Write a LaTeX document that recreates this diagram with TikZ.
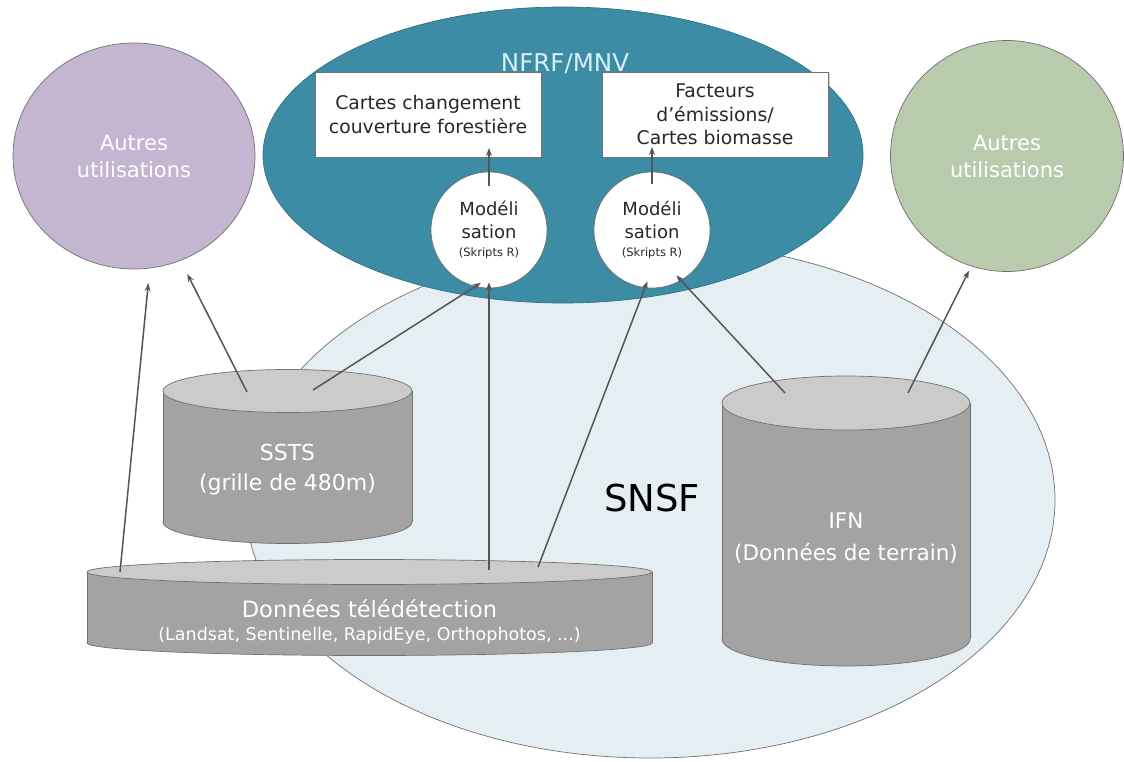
\documentclass[tikz,border=0pt]{standalone}
\usepackage{fontspec}
\setmainfont{DejaVu Sans}
\usetikzlibrary{shapes.geometric,arrows.meta,shadows,calc}
\definecolor{tealc}{RGB}{60,140,166}
\definecolor{snsfc}{RGB}{229,238,243}
\definecolor{purpc}{RGB}{196,181,208}
\definecolor{grnc}{RGB}{184,204,173}
\definecolor{cylbody}{RGB}{163,163,163}
\definecolor{cyltop}{RGB}{203,203,203}
\definecolor{edgec}{RGB}{112,112,112}
\definecolor{arrowc}{RGB}{85,85,85}
\definecolor{txtc}{RGB}{40,40,40}
\definecolor{nfrfc}{RGB}{214,240,246}
\newcommand\drawcyl[5]{%
  \fill[cylbody,draw=edgec,line width=0.7pt] (#1,#4) ellipse[x radius=#2, y radius=#5];
  \fill[cylbody] (#1-#2,#3) rectangle (#1+#2,#4);
  \draw[edgec,line width=0.7pt] (#1-#2,#3) -- (#1-#2,#4) (#1+#2,#3) -- (#1+#2,#4);
  \fill[cyltop,draw=edgec,line width=0.7pt] (#1,#3) ellipse[x radius=#2, y radius=#5];
}
\tikzset{
  blob/.style={ellipse, inner sep=0pt, draw=edgec, line width=0.7pt, align=center},
  infobox/.style={rectangle, fill=white, draw=edgec, line width=0.6pt, inner sep=0pt,
    align=center, text=txtc, font=\fontsize{18.8}{23.5}\selectfont,
    drop shadow={opacity=0.35, shadow xshift=1.5pt, shadow yshift=-1.5pt}},
  model/.style={circle, fill=white, draw=edgec, line width=0.7pt, inner sep=0pt,
    minimum size=116pt, align=center, text=txtc},
  cyltext/.style={align=center, text=white},
  arr/.style={draw=arrowc, line width=1.5pt, -{Stealth[length=8pt,width=6pt]}},
}
\begin{document}
\begin{tikzpicture}[x=1pt,y=-1pt]
\fill[white] (0,0) rectangle (1124,762);
\useasboundingbox (0,0) rectangle (1124,762);
% big shapes
\node[blob, fill=snsfc, minimum width=810pt, minimum height=516pt] (snsf) at (650,500) {};
\node[blob, fill=tealc, draw=tealc!80!black, minimum width=600pt, minimum height=296pt] (nfrf) at (563,155) {};
\node[blob, fill=purpc, minimum width=242pt, minimum height=226pt, text=white,
  font=\fontsize{21}{27}\selectfont] (purp) at (134,156) {Autres\\utilisations};
\node[blob, fill=grnc, minimum width=233pt, minimum height=231pt, text=white,
  font=\fontsize{21}{27}\selectfont] (grn) at (1007,156) {Autres\\utilisations};
\node[text=nfrfc, font=\fontsize{24.5}{27}\selectfont] (nfrfl) at (565,64) {NFRF/MNV};
% boxes
\node[infobox, minimum width=226pt, minimum height=85pt] (b1) at (428,114.5)
  {Cartes changement\\couverture forestière};
\node[infobox, minimum width=226pt, minimum height=85pt] (b2) at (715,114.5)
  {Facteurs\\d’émissions/\\Cartes biomasse};
% model circles
\node[model, font=\fontsize{18}{23}\selectfont] (m1) at (489,230)
  {Modéli\\sation\\[-5pt]\fontsize{11.5}{13}\selectfont (Skripts R)};
\node[model, font=\fontsize{18}{23}\selectfont] (m2) at (652,230)
  {Modéli\\sation\\[-5pt]\fontsize{11.5}{13}\selectfont (Skripts R)};
% SNSF label
\node[font=\fontsize{37}{40}\selectfont, text=black] (snsfl) at (652,498) {SNSF};
% cylinders
\drawcyl{287.5}{124.5}{391}{522}{21.5}
\node[cyltext, font=\fontsize{22}{30}\selectfont] (ssts) at (287.5,470) {SSTS\\(grille de 480m)};
\drawcyl{846}{124}{403}{639}{27}
\node[cyltext, font=\fontsize{21.5}{32}\selectfont] (ifn) at (846,538) {IFN\\(Données de terrain)};
\drawcyl{369.5}{282.5}{572}{643}{12.5}
\node[cyltext, font=\fontsize{22.5}{26}\selectfont] (don) at (369.5,622)
  {Données télédétection\\[-3pt]\fontsize{17.5}{20}\selectfont (Landsat, Sentinelle, RapidEye, Orthophotos, ...)};
% connector ends on cylinder tops / in boxes
\coordinate (dA) at (120,572);
\coordinate (sA) at (247,392);
\coordinate (sB) at (313,390);
\coordinate (dB) at (489,570);
\coordinate (dC) at (538,567);
\coordinate (iA) at (785,393);
\coordinate (iB) at (908,393);
\coordinate (t1) at (489,148);
\coordinate (t2) at (652,147);
% connectors
\draw[arr, shorten >=15pt] (dA) -- (purp.278);
\draw[arr, shorten >=15pt] (sA) -- (purp.294);
\draw[arr, shorten >=-7pt] (sB) -- (m1.256);
\draw[arr, shorten >=-6pt] (dB) -- (m1.south);
\draw[arr, shorten >=-7pt] (dC) -- (m2.263);
\draw[arr, shorten >=-7pt] (iA) -- (m2.300);
\draw[arr, shorten >=5pt] (iB) -- (grn.252);
\draw[arr, shorten <=-14pt] (m1.north) -- (t1);
\draw[arr, shorten <=-12pt] (m2.north) -- (t2);
\end{tikzpicture}
\end{document}
